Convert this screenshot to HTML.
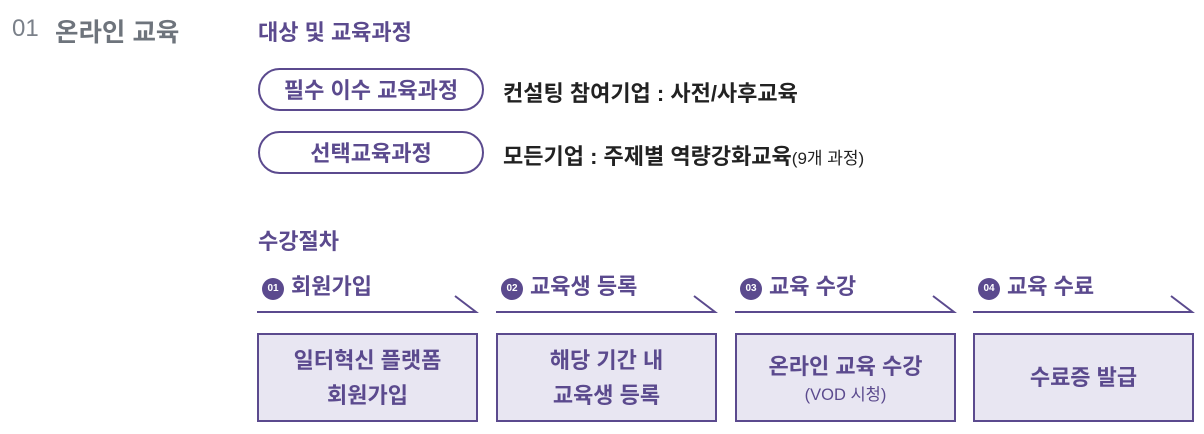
<!DOCTYPE html>
<html><head><meta charset="utf-8"><style>
body{margin:0;width:1204px;height:434px;background:#fff;position:relative;font-family:"Liberation Sans","Noto Sans CJK KR",sans-serif;overflow:hidden}
.a{position:absolute;white-space:nowrap}
.p{color:#5b4a8e;font-weight:bold}
.pill{position:absolute;left:258px;width:226px;height:43px;border:2px solid #5b4a8e;border-radius:22px;box-sizing:border-box;text-align:center;line-height:42px;font-size:22px;color:#5b4a8e;font-weight:bold}
.box{position:absolute;top:333px;width:221px;height:89px;background:#e8e6f2;border:2px solid #5b4a8e;box-sizing:border-box;display:flex;flex-direction:column;justify-content:center;align-items:center;color:#5b4a8e;font-weight:bold;font-size:22px;line-height:35px}
.num{display:inline-block;width:22px;height:22px;border-radius:50%;background:#5b4a8e;color:#fff;font-size:10px;text-align:center;line-height:22px;vertical-align:3px;margin-right:7px}
</style></head><body>
<div class="a" style="left:12px;top:15px;font-size:24px;color:#7a8089;font-weight:300">01</div>
<div class="a" style="left:55px;top:12px;font-size:25.5px;font-weight:bold;color:#6e747c">온라인 교육</div>
<div class="a p" style="left:258px;top:15px;font-size:22px">대상 및 교육과정</div>
<div class="pill" style="top:68px">필수 이수 교육과정</div>
<div class="pill" style="top:131px">선택교육과정</div>
<div class="a" style="left:503px;top:76px;font-size:22px;font-weight:bold;color:#222">컨설팅 참여기업 : 사전/사후교육</div>
<div class="a" style="left:503px;top:139px;font-size:22px;font-weight:bold;color:#222">모든기업 : 주제별 역량강화교육<span style="font-size:17px;font-weight:normal">(9개 과정)</span></div>
<div class="a p" style="left:258px;top:224px;font-size:22px">수강절차</div>
<div class="a p" style="left:262px;top:269px;font-size:22px"><span class="num">01</span>회원가입</div>
<div class="a p" style="left:501px;top:269px;font-size:22px"><span class="num">02</span>교육생 등록</div>
<div class="a p" style="left:740px;top:269px;font-size:22px"><span class="num">03</span>교육 수강</div>
<div class="a p" style="left:978px;top:269px;font-size:22px"><span class="num">04</span>교육 수료</div>
<svg class="a" style="left:0;top:0" width="1204" height="434">
<g stroke="#5b4a8e" stroke-width="2" fill="none">
<polyline points="257,312 476,312 455,296"/>
<polyline points="496,312 715,312 694,296"/>
<polyline points="735,312 954,312 933,296"/>
<polyline points="973,312 1192,312 1171,296"/>
</g></svg>
<div class="box" style="left:257px"><div>일터혁신 플랫폼</div><div>회원가입</div></div>
<div class="box" style="left:496px"><div>해당 기간 내</div><div>교육생 등록</div></div>
<div class="box" style="left:735px"><div>온라인 교육 수강</div><div style="font-size:16.5px;font-weight:normal;line-height:22px">(VOD 시청)</div></div>
<div class="box" style="left:973px"><div>수료증 발급</div></div>
</body></html>
